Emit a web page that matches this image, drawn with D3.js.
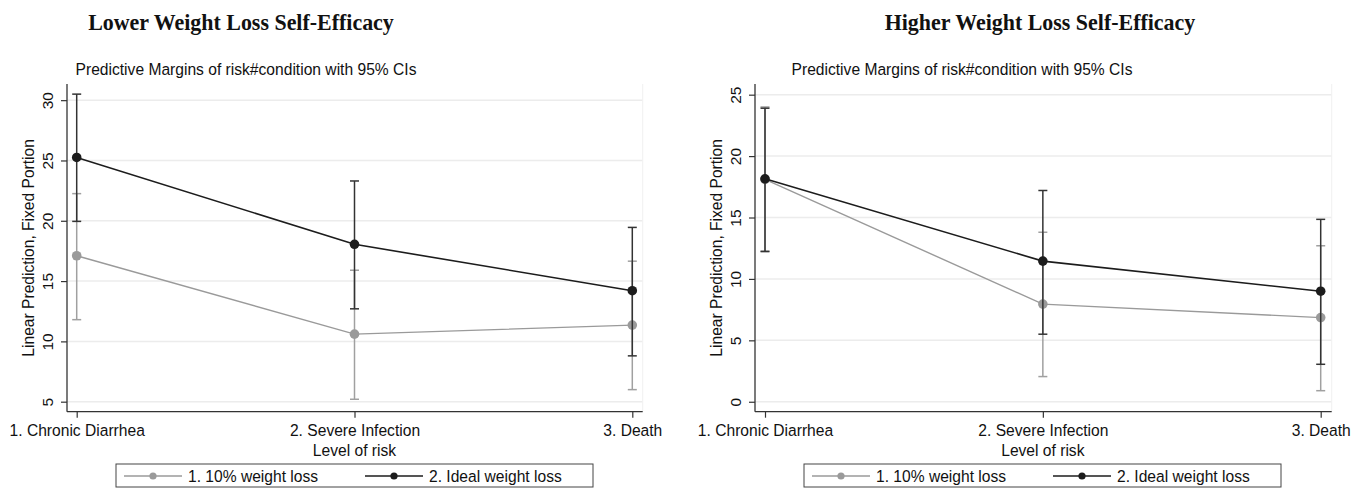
<!DOCTYPE html>
<html><head><meta charset="utf-8">
<script src="https://cdn.jsdelivr.net/npm/d3@7"></script>
<style>
body{margin:0;background:#fff;}
svg{display:block;}
text{font-family:"Liberation Sans",Arial,Helvetica,sans-serif;fill:#111;}
</style></head>
<body>
<svg id="chart" width="1365" height="502"></svg>
<script>
const categories = ["1. Chronic Diarrhea", "2. Severe Infection", "3. Death"];
const seriesNames = ["1. 10% weight loss", "2. Ideal weight loss"];
const panelTitles = ["Lower Weight Loss Self-Efficacy", "Higher Weight Loss Self-Efficacy"];
const subtitle = "Predictive Margins of risk#condition with 95% CIs";
const yAxisTitle = "Linear Prediction, Fixed Portion";
const xAxisTitle = "Level of risk";

// Lower self-efficacy panel
const lowTenMean  = [17.1, 10.6, 11.35];
const lowTenLo    = [11.8, 5.2, 6.0];
const lowTenHi    = [22.25, 15.9, 16.65];
const lowIdealMean= [25.25, 18.05, 14.2];
const lowIdealLo  = [19.95, 12.7, 8.8];
const lowIdealHi  = [30.5, 23.3, 19.45];
const lowTicks    = [5, 10, 15, 20, 25, 30];
const lowDomain   = [4.17, 31.34];

// Higher self-efficacy panel
const highTenMean  = [18.1, 7.95, 6.85];
const highTenLo    = [12.2, 2.05, 0.9];
const highTenHi    = [24.0, 13.8, 12.7];
const highIdealMean= [18.15, 11.45, 9.0];
const highIdealLo  = [12.25, 5.5, 3.05];
const highIdealHi  = [23.9, 17.2, 14.85];
const highTicks    = [0, 5, 10, 15, 20, 25];
const highDomain   = [-0.81, 25.87];

const colors = ["#9a9a9a", "#1c1c1c"];
const barColors = ["#a0a0a0", "#333333"];
const FS = 16.8;      // horizontal text size
const SQ = 0.93;      // horizontal condensation of the source figure
const FSR = 15.6;     // rotated text size

const svg = d3.select("#chart");

function condense(sel){
  sel.each(function(){
    const L = this.getComputedTextLength();
    this.setAttribute("textLength", L*SQ);
    this.setAttribute("lengthAdjust","spacingAndGlyphs");
  });
}

function panel(cfg){
  const g = svg.append("g");
  const x = d3.scalePoint().domain(categories).range([cfg.x0, cfg.x1]);
  const y = d3.scaleLinear().domain(cfg.domain).range([411.7, 84]);
  const left = cfg.axisX, right = cfg.rightX;

  // titles
  g.append("text").attr("x", cfg.titleX).attr("y", 29.5).attr("text-anchor","middle")
    .style("font-family","'Liberation Serif','Times New Roman',serif").style("font-weight","bold")
    .style("font-size","22.5px").text(cfg.title).call(t=>t.each(function(){
      const L=this.getComputedTextLength(); this.setAttribute("textLength", L*0.975); this.setAttribute("lengthAdjust","spacingAndGlyphs");}));
  g.append("text").attr("x", cfg.subX).attr("y", 74.5).attr("text-anchor","middle")
    .style("font-size", FS+"px").text(subtitle).call(condense);

  // gridlines
  g.selectAll(".grid").data(cfg.ticks).join("line")
    .attr("x1", left).attr("x2", right).attr("y1", d=>y(d)).attr("y2", d=>y(d))
    .attr("stroke","#ececec").attr("stroke-width",1.5);
  // faint right border
  g.append("line").attr("x1",right).attr("x2",right).attr("y1",84).attr("y2",411.7)
    .attr("stroke","#f0f0f0").attr("stroke-width",1);

  // y axis
  const ya = g.append("g").attr("transform",`translate(${left},0)`)
    .call(d3.axisLeft(y).tickValues(cfg.ticks).tickSize(6).tickFormat(d3.format("d")));
  ya.select(".domain").attr("stroke","#333").attr("stroke-width",1.3).attr("d",`M0,84V411.7`);
  ya.selectAll(".tick line").attr("stroke","#333").attr("stroke-width",1.2);
  ya.selectAll(".tick text").attr("x",null).attr("dy",null)
    .attr("transform","translate(-14,0) rotate(-90)").attr("text-anchor","middle")
    .style("font-size","15.5px").style("font-family","'Liberation Sans',Arial,sans-serif").attr("fill","#111");

  // x axis
  const xa = g.append("g").attr("transform",`translate(0,411.7)`)
    .call(d3.axisBottom(x).tickSize(6));
  xa.select(".domain").attr("stroke","#333").attr("stroke-width",1.3).attr("d",`M${left},0H${right}`);
  xa.selectAll(".tick line").attr("stroke","#333").attr("stroke-width",1.2);
  xa.selectAll(".tick text").attr("y",null).attr("dy",null).attr("transform","translate(0,23.8)")
    .style("font-size",FS+"px").style("font-family","'Liberation Sans',Arial,sans-serif").attr("fill","#111")
    .call(condense);

  // axis titles
  g.append("text").attr("transform",`translate(${left-33},${(84+411.7)/2}) rotate(-90)`)
    .attr("text-anchor","middle").style("font-size",FSR+"px").text(yAxisTitle);
  g.append("text").attr("x",(cfg.x0+cfg.x1)/2).attr("y",455.5).attr("text-anchor","middle")
    .style("font-size",FS+"px").text(xAxisTitle).call(condense);

  // series
  cfg.series.forEach((s,i)=>{
    const pts = categories.map((c,j)=>({c, m:s.mean[j], lo:s.lo[j], hi:s.hi[j]}));
    const sg = g.append("g");
    sg.append("path").datum(pts)
      .attr("d", d3.line().x(d=>x(d.c)).y(d=>y(d.m)))
      .attr("fill","none").attr("stroke",colors[i]).attr("stroke-width", i? 1.6:1.4);
    sg.selectAll(".bar").data(pts).join("line")
      .attr("x1",d=>x(d.c)).attr("x2",d=>x(d.c)).attr("y1",d=>y(d.lo)).attr("y2",d=>y(d.hi))
      .attr("stroke",barColors[i]).attr("stroke-width",1.5);
    ["lo","hi"].forEach(k=>{
      sg.selectAll(".cap"+k).data(pts).join("line")
        .attr("x1",d=>x(d.c)-4.5).attr("x2",d=>x(d.c)+4.5).attr("y1",d=>y(d[k])).attr("y2",d=>y(d[k]))
        .attr("stroke",barColors[i]).attr("stroke-width",1.5);
    });
    sg.selectAll("circle").data(pts).join("circle")
      .attr("cx",d=>x(d.c)).attr("cy",d=>y(d.m)).attr("r",4.8).attr("fill",colors[i]);
  });

  // legend
  const lg = g.append("g");
  lg.append("rect").attr("x",cfg.legX).attr("y",464).attr("width",477).attr("height",23)
    .attr("fill","#fff").attr("stroke","#444").attr("stroke-width",1);
  const offs = [8, 249];
  seriesNames.forEach((n,i)=>{
    const lx = cfg.legX + offs[i];
    lg.append("line").attr("x1",lx).attr("x2",lx+58).attr("y1",476).attr("y2",476)
      .attr("stroke",colors[i]).attr("stroke-width",i?1.6:1.4);
    lg.append("circle").attr("cx",lx+29).attr("cy",476).attr("r",3.6).attr("fill",colors[i]);
    lg.append("text").attr("x",lx+64).attr("y",482).style("font-size",FS+"px").text(n).call(condense);
  });
}

panel({title:panelTitles[0], titleX:241, subX:246, axisX:67, rightX:642.7, x0:76.7, x1:632.3,
  domain:lowDomain, ticks:lowTicks, legX:116,
  series:[{mean:lowTenMean, lo:lowTenLo, hi:lowTenHi},{mean:lowIdealMean, lo:lowIdealLo, hi:lowIdealHi}]});
panel({title:panelTitles[1], titleX:1040, subX:962, axisX:755, rightX:1331.7, x0:765, x1:1320.7,
  domain:highDomain, ticks:highTicks, legX:804,
  series:[{mean:highTenMean, lo:highTenLo, hi:highTenHi},{mean:highIdealMean, lo:highIdealLo, hi:highIdealHi}]});
</script>
</body></html>
